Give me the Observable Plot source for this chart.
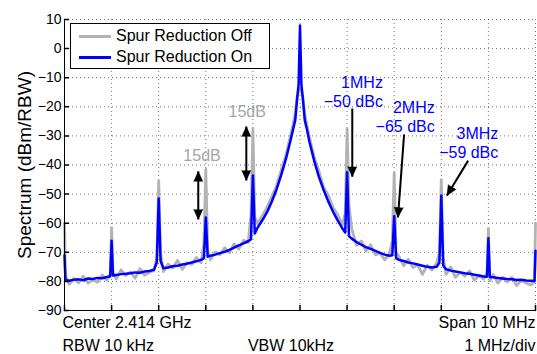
<!DOCTYPE html>
<html>
<head>
<meta charset="utf-8">
<script src="https://cdn.jsdelivr.net/npm/d3@7"></script>
<script src="https://cdn.jsdelivr.net/npm/@observablehq/plot@0.6"></script>
<style>
  html, body { margin: 0; padding: 0; background: #fff; }
  #wrap { position: relative; width: 537px; height: 354px; font-family: "Liberation Sans", Arial, Helvetica, sans-serif; }
  #legend { position: absolute; left: 70px; top: 23px; width: 198px; height: 44px; border: 1px solid #000; background: #fff; }
  #legend .row { position: absolute; left: 0; height: 20px; width: 100%; }
  #legend .sw { position: absolute; left: 8px; top: 9px; width: 32px; height: 3px; }
  #legend .lab { position: absolute; left: 45px; top: 0; font-size: 16px; line-height: 20px; color: #000; white-space: nowrap; }
</style>
</head>
<body>
<div id="wrap">
  <div id="chart"></div>
  <div id="legend"></div>
</div>
<script>
// ---- data (frequency offset from 2.414 GHz carrier, MHz; level in dBm/RBW) ----
const freqMHz = [
  -5.00,-4.98,-4.9,-4.8,-4.7,-4.6,-4.5,-4.4,-4.3,-4.2,-4.1,-4.03,-4.00,-3.97,
  -3.9,-3.8,-3.7,-3.6,-3.5,-3.4,-3.3,-3.2,-3.1,-3.04,-3.0,-2.96,
  -2.9,-2.8,-2.7,-2.6,-2.5,-2.4,-2.3,-2.2,-2.1,-2.04,-2.0,-1.96,
  -1.9,-1.8,-1.7,-1.6,-1.5,-1.4,-1.3,-1.2,-1.1,-1.04,-1.0,-0.96,
  -0.9,-0.8,-0.7,-0.6,-0.5,-0.4,-0.3,-0.2,-0.15,-0.1,-0.06,-0.03,0,
  0.03,0.06,0.1,0.15,0.2,0.3,0.4,0.5,0.6,0.7,0.8,0.9,0.96,1.0,1.04,
  1.1,1.2,1.3,1.4,1.5,1.6,1.7,1.8,1.9,1.96,2.0,2.04,
  2.1,2.2,2.3,2.4,2.5,2.6,2.7,2.8,2.9,2.96,3.0,3.04,
  3.1,3.2,3.3,3.4,3.5,3.6,3.7,3.8,3.9,3.97,4.0,4.03,
  4.1,4.2,4.3,4.4,4.5,4.6,4.7,4.8,4.9,4.98,5.0
];
const levelOff = [
  -60,-78.0,-81.0,-79.0,-80.5,-78.2,-80.6,-79.4,-80.3,-77.8,-79.6,-77.5,-61.5,-77.0,
  -79.2,-76.0,-78.0,-76.8,-78.9,-75.6,-77.9,-76.9,-76.2,-71.5,-45.5,-70.5,
  -76.6,-74.0,-75.4,-72.8,-75.9,-73.6,-74.2,-71.8,-73.6,-67.0,-41.5,-69.0,
  -72.6,-69.9,-70.9,-68.4,-70.2,-67.1,-68.9,-65.9,-66.6,-57.0,-27.5,-58.0,
  -60.2,-57.4,-54.6,-50.8,-47.2,-41.8,-36.6,-29.8,-26.2,-22.0,-16.5,-14.5,-14.0,
  -14.5,-16.8,-22.4,-26.6,-30.4,-37.2,-42.0,-47.6,-50.4,-54.6,-57.0,-60.6,-56.5,-27.5,-54.0,
  -62.0,-67.6,-66.1,-69.6,-67.4,-70.9,-70.3,-72.6,-70.4,-66.0,-42.6,-70.0,
  -71.4,-74.6,-72.4,-75.2,-74.4,-77.6,-74.4,-76.1,-73.8,-70.0,-45.0,-71.5,
  -77.6,-75.0,-78.6,-76.8,-78.2,-76.4,-79.6,-78.0,-79.2,-77.0,-61.8,-79.8,
  -77.6,-80.6,-78.6,-80.2,-78.6,-81.4,-79.6,-80.6,-81.2,-80.0,-60.0
];
const levelOn = [
  -71,-79.5,-79.8,-79.4,-79.3,-79.6,-79.0,-79.2,-78.8,-78.9,-78.5,-78.3,-66,-78.0,
  -77.8,-77.5,-77.4,-77.2,-76.9,-77.0,-76.6,-76.4,-76.0,-73.5,-51.5,-73.0,
  -75.5,-75.2,-74.8,-74.6,-74.2,-73.9,-73.5,-73.1,-72.6,-72.0,-58.0,-71.5,
  -71.2,-70.8,-70.3,-69.8,-69.2,-68.4,-67.6,-66.9,-66.2,-65.5,-43.6,-63.5,
  -61.5,-59.0,-56.2,-52.6,-48.5,-43.5,-38.0,-31.5,-28.0,-24.5,-17.0,-12.5,7.9,
  -12.5,-17.0,-24.5,-28.0,-32.0,-38.5,-44.0,-48.5,-52.5,-56.0,-59.0,-61.8,-63.2,-42.5,-64.5,
  -65.3,-66.5,-67.4,-68.2,-68.8,-69.5,-70.2,-70.8,-71.2,-71.0,-57.6,-72.0,
  -72.6,-73.0,-73.5,-73.8,-74.2,-74.6,-75.0,-75.2,-75.0,-73.5,-50.5,-74.5,
  -75.8,-76.3,-76.6,-76.9,-77.2,-77.4,-77.7,-78.0,-78.3,-78.4,-65.2,-78.5,
  -78.6,-78.8,-79.0,-79.2,-79.3,-79.5,-79.4,-79.7,-79.8,-79.9,-69.5
];
const seriesNames = ["Spur Reduction Off", "Spur Reduction On"];
const xTicks = [-5,-4,-3,-2,-1,0,1,2,3,4,5];
const yTicks = [-90,-80,-70,-60,-50,-40,-30,-20,-10,0,10];
const yLabel = "Spectrum (dBm/RBW)";
const footerRow1 = ["Center 2.414 GHz", "", "Span 10 MHz"];
const footerRow2 = ["RBW 10 kHz", "VBW 10kHz", "1 MHz/div"];

// annotations (anchored in data units)
const gapText = ["15dB", "15dB"];
const gapTextFreq = [-2.08, -1.12];
const gapTextLevel = [-36.7, -21.6];
const gapArrowFreq = [-2.16, -1.14];
const gapArrowTop = [-42.2, -26.8];
const gapArrowBottom = [-58.7, -45.3];

const spurText = ["1MHz\n−50 dBc", "2MHz\n−65 dBc", "3MHz\n−59 dBc"];
const spurTextFreq = [1.76, 2.86, 4.21];
const spurTextLevel = [-14.6, -23.3, -32.1];
const spurArrowFreq1 = [1.11, 2.21, 3.57];
const spurArrowLevel1 = [-20.6, -29.5, -38.5];
const spurArrowFreq2 = [1.11, 2.08, 3.12];
const spurArrowLevel2 = [-44.0, -58.0, -50.5];

// ---- build ----
const W = 537, H = 354, mL = 64, mR = 2, mT = 19, mB = 44;
const kx = (W - mL - mR) / 10, ky = (H - mT - mB) / 100;
const colOff = "#b3b3b3", colOn = "#0000ff", colGapText = "#a6a6a6";
const font = '"Liberation Sans", Arial, Helvetica, sans-serif';

const rows = freqMHz.map((f, i) => ({f, off: levelOff[i], on: levelOn[i]}));
const gaps = gapText.map((t, i) => ({t, tf: gapTextFreq[i], tl: gapTextLevel[i], f: gapArrowFreq[i], top: gapArrowTop[i], bot: gapArrowBottom[i]}));
const spurs = spurText.map((t, i) => {
  const f1 = spurArrowFreq1[i], l1 = spurArrowLevel1[i], f2 = spurArrowFreq2[i], l2 = spurArrowLevel2[i];
  const ang = Math.atan2((f2 - f1) * kx, (l2 - l1) * ky) * 180 / Math.PI;
  return {t, tf: spurTextFreq[i], tl: spurTextLevel[i], f1, l1, f2, l2, ang};
});
const fmt = d => d < 0 ? "\u2212" + Math.abs(d) : String(d);
const tickLine = {draw(ctx, l) { ctx.moveTo(0, 0); ctx.lineTo(0, -l); }};

// footer: one text mark per (row, position)
const footerMarks = [];
const anchors = [["bottom-left", "start", -2], ["bottom", "middle", -9], ["bottom-right", "end", 0]];
[[footerRow1, 17.5], [footerRow2, 40.5]].forEach(([row, dy]) => {
  row.forEach((t, j) => {
    if (!t) return;
    const [frameAnchor, textAnchor, dx] = anchors[j];
    footerMarks.push(Plot.text([t], {frameAnchor, text: d => d, textAnchor, dx, dy, lineAnchor: "bottom", fontSize: 16, fill: "#000"}));
  });
});

const chart = Plot.plot({
  width: W, height: H,
  marginLeft: mL, marginRight: mR, marginTop: mT, marginBottom: mB,
  x: {domain: [-5, 5], axis: null},
  y: {domain: [-90, 10], axis: null},
  style: {fontFamily: font, fontSize: "14px", background: "#fff", color: "#000", overflow: "visible"},
  marks: [
    Plot.ruleX(xTicks, {stroke: "#000", strokeOpacity: 0.55, strokeDasharray: "1,3"}),
    Plot.ruleY(yTicks, {stroke: "#000", strokeOpacity: 0.55, strokeDasharray: "1,3"}),
    Plot.line(rows, {x: "f", y: "off", stroke: colOff, strokeWidth: 2.8, strokeLinejoin: "round"}),
    Plot.line(rows, {x: "f", y: "on", stroke: colOn, strokeWidth: 2.5, strokeLinejoin: "round"}),
    Plot.ruleX([-5], {stroke: "#000", strokeWidth: 1}),
    Plot.ruleY([-90], {stroke: "#000", strokeWidth: 1}),
    Plot.vector(yTicks, {y: d => d, frameAnchor: "left", rotate: 90, length: 4, anchor: "start", shape: tickLine, stroke: "#000"}),
    Plot.vector(xTicks, {x: d => d, frameAnchor: "bottom", rotate: 0, length: 5, anchor: "start", shape: tickLine, stroke: "#000"}),
    Plot.text(yTicks, {y: d => d, frameAnchor: "left", text: fmt, textAnchor: "end", dx: -3, fontSize: 14, fill: "#000"}),
    Plot.text([yLabel], {frameAnchor: "left", text: d => d, rotate: -90, textAnchor: "middle", dx: -40, fontSize: 19, fill: "#000"}),
    ...footerMarks,
    // 15dB gap annotations
    Plot.text(gaps, {x: "tf", y: "tl", text: "t", fill: colGapText, fontSize: 16}),
    Plot.link(gaps, {x1: "f", x2: "f", y1: "top", y2: "bot", stroke: "#000", strokeWidth: 2}),
    Plot.vector(gaps, {x: "f", y: "top", rotate: 0, length: 10, r: 4.5, anchor: "end", shape: "spike", fill: "#000", stroke: "#000", strokeWidth: 0.5}),
    Plot.vector(gaps, {x: "f", y: "bot", rotate: 180, length: 10, r: 4.5, anchor: "end", shape: "spike", fill: "#000", stroke: "#000", strokeWidth: 0.5}),
    // spur annotations
    Plot.text(spurs, {x: "tf", y: "tl", text: "t", textAnchor: "end", lineHeight: 1.2, fill: colOn, fontSize: 16}),
    Plot.link(spurs, {x1: "f1", y1: "l1", x2: "f2", y2: "l2", stroke: "#000", strokeWidth: 2}),
    Plot.vector(spurs, {x: "f2", y: "l2", rotate: "ang", length: 10, r: 4.5, anchor: "end", shape: "spike", fill: "#000", stroke: "#000", strokeWidth: 0.5})
  ]
});
document.getElementById("chart").appendChild(chart);

// legend
const legend = document.getElementById("legend");
[colOff, colOn].forEach((c, i) => {
  const row = document.createElement("div");
  row.className = "row";
  row.style.top = (2 + i * 21) + "px";
  const sw = document.createElement("span");
  sw.className = "sw"; sw.style.background = c;
  const lab = document.createElement("span");
  lab.className = "lab"; lab.textContent = seriesNames[i];
  row.appendChild(sw); row.appendChild(lab);
  legend.appendChild(row);
});
</script>
</body>
</html>
